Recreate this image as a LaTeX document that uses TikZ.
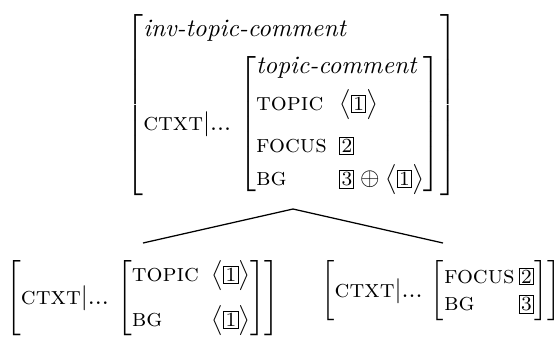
\documentclass[tikz,border=0pt]{standalone}
\usepackage{amsmath}
\usepackage{amssymb}
\usetikzlibrary{positioning}

\newcommand{\tagbox}[1]{\text{\setlength{\fboxsep}{0.5pt}\fbox{\footnotesize #1}}}
\newcommand{\feat}[1]{\text{\textsc{#1}}}
\newcommand{\tagl}[1]{\bigl\langle\tagbox{#1}\bigr\rangle}
\newcommand{\ctxtpath}{\feat{ctxt}|\text{...}\,}

\begin{document}
\begin{tikzpicture}[
    x=0.014cm,
    y=-0.014cm,
    font=\normalfont,
    avm/.style={
		inner sep=0pt,
		text centered
	},
	branch/.style={
		line width=0.5pt
	}
  ]
    % fix the canvas first
  \useasboundingbox (0,0) rectangle (560,344);

    % mother
  \node [avm] (mother) at (292,105)
 {$%
 \left[\begin{array}{@{}l@{}}
  \textit{inv-topic-comment}\\[3pt]
  \ctxtpath\left[\begin{array}{@{}l@{\ \,}l@{}}
   \multicolumn{2}{@{}l@{}}{\textit{topic-comment}}\\[2.7pt]
   \feat{topic} & \tagl{1}\\[4.7pt]
   \feat{focus} & \tagbox{2}\\[1.1pt]
   \feat{bg} & \tagbox{3}\oplus\tagl{1}
  \end{array}\right]
 \end{array}\right]$%
 };

    % daughters
  \node [avm] (topicdtr) at (143,298)
 {$%
 \left[\begin{array}{@{}l@{}}
  \ctxtpath\left[\begin{array}{@{}l@{\ \,}l@{}}
   \feat{topic} & \tagl{1}\\[5.9pt]
   \feat{bg} & \tagl{1}
  \end{array}\right]
 \end{array}\right]$%
 };

  \node [avm] (focusdtr) at (441,291)
 {$%
 \left[\begin{array}{@{}l@{}}
  \ctxtpath\left[\begin{array}{@{}l@{\,}l@{}}
   \feat{focus} & \tagbox{2}\\[-1pt]
   \feat{bg} & \tagbox{3}
  \end{array}\right]
 \end{array}\right]$%
 };

    % the branches
  \coordinate (apex) at (293,209);
  \coordinate (topicend) at (143,243);
  \coordinate (focusend) at (443,243);
  \draw [branch] (apex) -- (topicend);
  \draw [branch] (apex) -- (focusend);

\end{tikzpicture}
\end{document}
